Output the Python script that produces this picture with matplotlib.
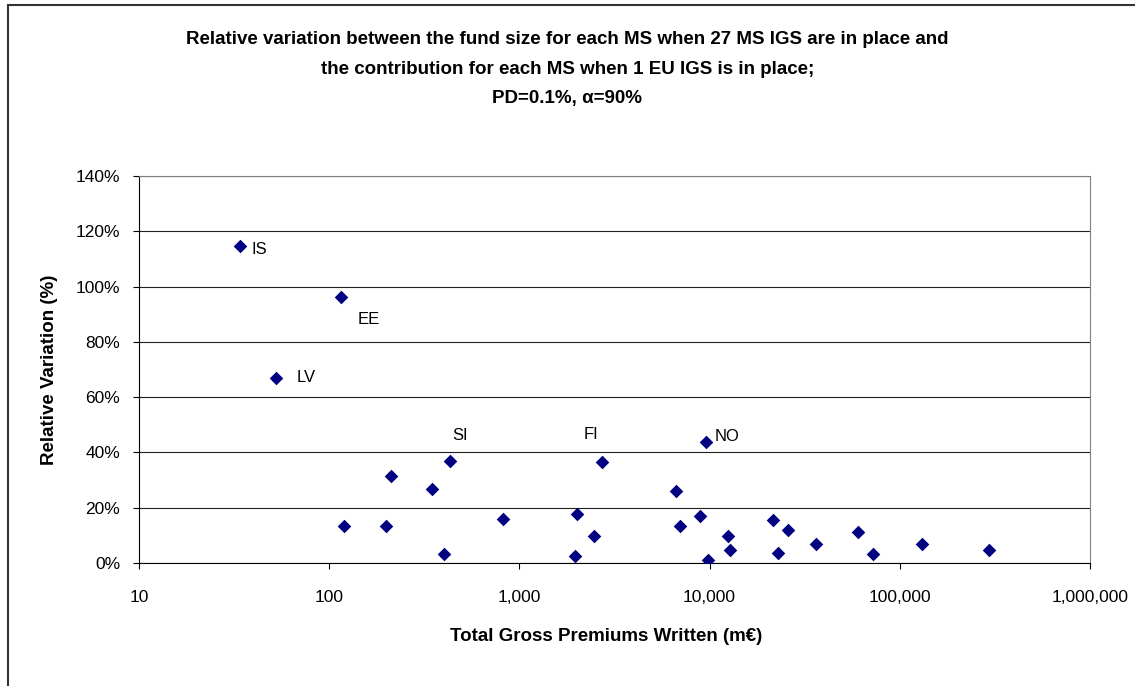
import matplotlib.pyplot as plt
from matplotlib.ticker import FuncFormatter, FixedLocator, NullLocator
from matplotlib.patches import Rectangle

plt.rcParams['font.family'] = ['Liberation Sans', 'DejaVu Sans']

# total gross premiums written (m EUR) and relative variation (fraction)
gpw = [34, 116, 52.6, 433, 212, 348, 120, 200, 403, 824,
       2705, 6620, 1997, 1950, 2455, 6980, 8950, 9570, 9790, 12530,
       12820, 21500, 22800, 25800, 36100, 60000, 72600, 131600, 294000]
rel_var = [1.147, 0.963, 0.671, 0.368, 0.314, 0.267, 0.134, 0.134, 0.032, 0.159,
           0.364, 0.262, 0.176, 0.027, 0.098, 0.135, 0.171, 0.439, 0.012, 0.096,
           0.048, 0.157, 0.037, 0.118, 0.070, 0.112, 0.033, 0.070, 0.048]
labels = {0: 'IS', 1: 'EE', 2: 'LV', 3: 'SI', 10: 'FI', 17: 'NO'}
label_offsets = {0: (11, -4), 1: (16, -23), 2: (20, 0), 3: (2, 26), 10: (-18, 28), 17: (9, 5)}

fig = plt.figure(figsize=(11.35, 6.86), dpi=100)
# chart-area frame, only top and left edges fall inside the picture
fig.patches.append(Rectangle((7.5 / 1135, -0.1), 1.2, 1.1 - 4.5 / 686, transform=fig.transFigure,
                             fill=False, edgecolor='#333333', linewidth=1.5))
ax = fig.add_axes([139 / 1135, 123 / 686, 951 / 1135, 387 / 686])

ax.scatter(gpw, rel_var, marker='D', s=48, color='#000080', zorder=3, linewidths=0)
for i, name in labels.items():
    ax.annotate(name, (gpw[i], rel_var[i]), xytext=label_offsets[i], textcoords='offset pixels',
                ha='left', va='center', fontsize=12, color='black')

ax.set_xscale('log')
ax.set_xlim(10, 1e6)
ax.set_ylim(0, 1.4)
ax.xaxis.set_major_locator(FixedLocator([10, 100, 1e3, 1e4, 1e5, 1e6]))
ax.xaxis.set_minor_locator(NullLocator())
ax.xaxis.set_major_formatter(FuncFormatter(lambda v, p: f'{v:,.0f}'))
ax.set_yticks([i * 0.2 for i in range(8)])
ax.yaxis.set_major_formatter(FuncFormatter(lambda v, p: f'{v * 100:.0f}%'))
ax.grid(axis='y', color='#202020', linewidth=0.8)
ax.set_axisbelow(True)

for side in ['top', 'right']:
    ax.spines[side].set_color('#808080')
for side in ['left', 'bottom']:
    ax.spines[side].set_color('black')
ax.tick_params(direction='out', length=4.5, labelsize=12.5, color='black')
ax.tick_params(axis='x', pad=15)
ax.tick_params(axis='y', pad=9)

ax.set_xlabel('Total Gross Premiums Written (m€)', fontsize=13.5, fontweight='bold', labelpad=16.5, x=0.491)
ax.set_ylabel('Relative Variation (%)', fontsize=13.5, fontweight='bold', labelpad=13)

fig.text(0.5, 1 - 69 / 686, 'Relative variation between the fund size for each MS when 27 MS IGS are in place and\n'
         'the contribution for each MS when 1 EU IGS is in place;\nPD=0.1%, α=90%',
         ha='center', va='center', fontsize=13.5, fontweight='bold', linespacing=1.93)

fig.savefig('out.png', dpi=100)
